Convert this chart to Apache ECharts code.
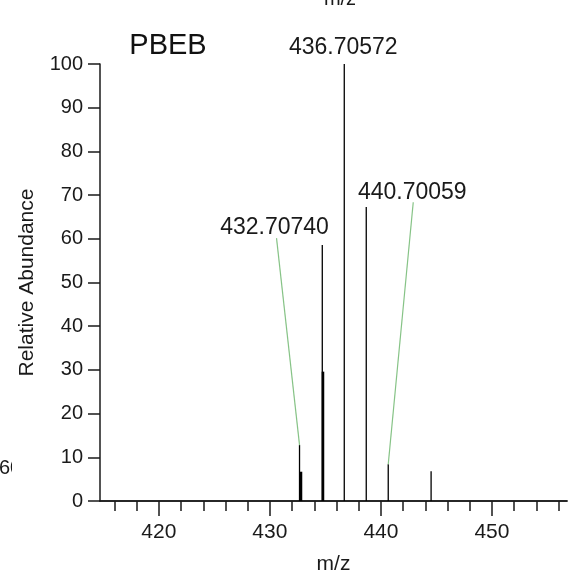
<!DOCTYPE html>
<html>
<head>
<meta charset="utf-8">
<script src="https://cdn.jsdelivr.net/npm/echarts@6/dist/echarts.min.js"></script>
<style>
html,body{margin:0;padding:0;background:#fff;}
#chart{width:579px;height:574px;}
</style>
</head>
<body>
<div id="chart"></div>
<script>
// Thin centroid peaks (m/z, relative abundance)
var thinMz = [432.67, 434.72, 436.70, 438.68, 440.66, 444.52];
var thinAbund = [12.8, 58.6, 100, 67.3, 8.4, 6.8];
// Heavier (thicker) peaks
var thickMz = [432.80, 434.78];
var thickAbund = [6.7, 29.6];
// Annotated peaks: label text and the peak it refers to
var annotLabels = ['436.70572', '432.70740', '440.70059'];
var annotMz = [436.70, 432.67, 440.66];
var annotAbund = [100, 12.8, 8.4];
// Axis ticks
var minorTicks = [416,418,420,422,424,426,428,430,432,434,436,438,440,442,444,446,448,450,452,454,456];
var majorTicks = [420, 430, 440, 450];
var title = 'PBEB';

var FONT = '"Liberation Sans", Arial, sans-serif';
var chart = echarts.init(document.getElementById('chart'));

function zip(a, b) { return a.map(function (v, i) { return [v, b[i]]; }); }
function stickRenderer(width) {
  return function (params, api) {
    var top = api.coord([api.value(0), api.value(1)]);
    var base = api.coord([api.value(0), 0]);
    return { type: 'line', shape: { x1: top[0], y1: top[1], x2: base[0], y2: base[1] },
      style: { stroke: '#000', lineWidth: width } };
  };
}

var XMIN = 414.7, XMAX = 456.76;
var axisLineStyle = { color: '#1a1a1a', width: 1.5 };

chart.setOption({
  animation: false,
  backgroundColor: '#fff',
  grid: { left: 100, right: 12, top: 64, bottom: 73, containLabel: false, outerBoundsMode: 'none' },
  xAxis: [{
    type: 'value', min: XMIN, max: XMAX, position: 'bottom',
    axisLine: { show: true, lineStyle: axisLineStyle },
    axisTick: { show: true, length: 10, customValues: minorTicks, lineStyle: axisLineStyle },
    axisLabel: { show: false },
    splitLine: { show: false }
  }, {
    type: 'value', min: XMIN, max: XMAX, position: 'bottom',
    axisLine: { show: true, lineStyle: axisLineStyle },
    axisTick: { show: true, length: 15, customValues: majorTicks, lineStyle: axisLineStyle },
    axisLabel: { show: true, customValues: majorTicks, fontSize: 21, fontFamily: FONT, color: '#1a1a1a', margin: 21 },
    splitLine: { show: false },
    name: 'm/z', nameLocation: 'middle', nameGap: 53,
    nameTextStyle: { fontSize: 21, fontFamily: FONT, color: '#1a1a1a' }
  }],
  yAxis: {
    type: 'value', min: 0, max: 100, interval: 10,
    axisLine: { show: true, lineStyle: axisLineStyle },
    axisTick: { show: true, length: 12, lineStyle: axisLineStyle },
    axisLabel: { fontSize: 20, fontFamily: FONT, color: '#1a1a1a', margin: 17 },
    splitLine: { show: false },
    name: 'Relative Abundance', nameLocation: 'middle', nameRotate: 90, nameGap: 62,
    nameTextStyle: { fontSize: 21, fontFamily: FONT, color: '#1a1a1a' }
  },
  series: [{
    type: 'custom', xAxisIndex: 0, renderItem: stickRenderer(1.3),
    data: zip(thinMz, thinAbund), z: 3
  }, {
    type: 'custom', xAxisIndex: 0, renderItem: stickRenderer(2.6),
    data: zip(thickMz, thickAbund), z: 3
  }]
});

// Annotations (labels with leader lines), positioned relative to the peaks
var labelOffsets = [[-1, -16], [-25, -217], [24, -272]]; // label centre relative to peak top (px)
var leaderStarts = [null, [-23, -207], [25, -262]];      // leader start relative to peak top (px)
var gfx = [];
annotLabels.forEach(function (t, i) {
  var p = chart.convertToPixel({ xAxisIndex: 0, yAxisIndex: 0 }, [annotMz[i], annotAbund[i]]);
  if (leaderStarts[i]) {
    gfx.push({ type: 'line', z: 5, shape: { x1: p[0] + leaderStarts[i][0], y1: p[1] + leaderStarts[i][1], x2: p[0], y2: p[1] },
      style: { stroke: '#86c386', lineWidth: 1.2 } });
  }
  gfx.push({ type: 'text', z: 6, x: p[0] + labelOffsets[i][0], y: p[1] + labelOffsets[i][1],
    style: { text: t, font: '23px ' + FONT, fill: '#1a1a1a', align: 'center', verticalAlign: 'middle' } });
});
gfx.push({ type: 'text', z: 6, x: 168, y: 46,
  style: { text: title, font: '29px ' + FONT, fill: '#111', align: 'center', verticalAlign: 'middle' } });
// Fragments of neighbouring panels cut off at the picture edges
gfx.push({ type: 'text', z: 6, x: 340, y: 9,
  style: { text: 'm/z', font: '20px ' + FONT, fill: '#1a1a1a', align: 'center', verticalAlign: 'bottom' } });
gfx.push({ type: 'text', z: 6, x: -1, y: 468,
  style: { text: '60', font: '20px ' + FONT, fill: '#1a1a1a', align: 'left', verticalAlign: 'middle' } });
gfx.push({ type: 'rect', z: 7, shape: { x: 12, y: 455, width: 20, height: 26 }, style: { fill: '#fff' } });
chart.setOption({ graphic: gfx });
</script>
</body>
</html>
